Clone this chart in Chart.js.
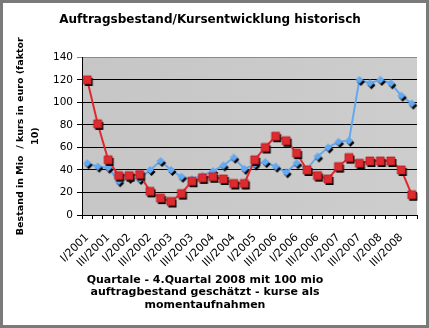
<!DOCTYPE html>
<html>
<head>
<meta charset="utf-8">
<script src="https://cdn.jsdelivr.net/npm/chart.js@4.4.1/dist/chart.umd.min.js"></script>
<style>
  html, body { margin: 0; padding: 0; background: #fff; }
  #wrap { width: 429px; height: 328px; }
</style>
</head>
<body>
<div id="wrap"><canvas id="chart" width="429" height="328"></canvas></div>
<script>
// Quartale I/2001 .. IV/2008 (the "III/2006" at the 2005 slot is as in the original)
const quartale = [
  "I/2001","II/2001","III/2001","IV/2001",
  "I/2002","II/2002","III/2002","IV/2002",
  "I/2003","II/2003","III/2003","IV/2003",
  "I/2004","II/2004","III/2004","IV/2004",
  "I/2005","II/2005","III/2006","IV/2005",
  "I/2006","II/2006","III/2006","IV/2006",
  "I/2007","II/2007","III/2007","IV/2007",
  "I/2008","II/2008","III/2008","IV/2008"
];

// Kurs in euro x10 (rot)
const kurs = [120,81,49,35,35,36,21,15,12,19,30,33,34,32,28,28,
              49,60,70,66,55,40,35,32,43,51,46,48,48,48,40,18];

// Auftragsbestand in Mio (blau)
const bestand = [46,43,42,30,33,32,40,48,40,34,32,35,39,44,51,41,
                 45,47,43,38,46,41,52,60,65,66,120,117,120,117,106,99];

const yTicks = [0,20,40,60,80,100,120,140];

const titel = "Auftragsbestand/Kursentwicklung historisch";
const yTitel = ["Bestand in Mio  / kurs in euro (faktor", "10)"];
const xTitel = ["Quartale - 4.Quartal 2008 mit 100 mio",
                "auftragbestand geschätzt - kurse als",
                "momentaufnahmen"];

const FONT = "'DejaVu Sans', Verdana, sans-serif";

// marker bitmaps with a black drop shadow
function marker(shape, fill, edge){
  let c = document.createElement('canvas');
  c.width = 16; c.height = 16;
  let g = c.getContext('2d');
  function path(dx, dy){
    g.beginPath();
    if(shape === 'square'){
      g.rect(4+dx, 4+dy, 8, 8);
    } else {
      g.moveTo(8+dx, 4+dy); g.lineTo(12+dx, 8+dy);
      g.lineTo(8+dx, 12+dy); g.lineTo(4+dx, 8+dy); g.closePath();
    }
  }
  g.fillStyle = '#000';
  path(1.5, 2); g.fill();
  g.fillStyle = fill;
  path(0, 0); g.fill();
  if(edge){ g.strokeStyle = edge; g.lineWidth = 0.8; path(0, 0); g.stroke(); }
  return c;
}

const redMark = marker('square', '#dd2b2f', '#b82024');
const blueMark = marker('diamond', '#62a8f2', null);

const frame = {
  id: 'frame',
  beforeDraw(chart){
    const ctx = chart.ctx, a = chart.chartArea;
    ctx.save();
    ctx.fillStyle = '#fff';
    ctx.fillRect(0, 0, chart.width, chart.height);
    let grad = ctx.createLinearGradient(a.left, 0, a.right, 0);
    grad.addColorStop(0, '#c6c6c6');
    grad.addColorStop(1, '#cdcdcd');
    ctx.fillStyle = grad;
    ctx.fillRect(a.left, a.top, a.right - a.left, a.bottom - a.top);
    ctx.restore();
  },
  afterDraw(chart){
    const ctx = chart.ctx;
    ctx.save();
    // bottom axis title, centred a bit left like the original
    ctx.fillStyle = '#000';
    ctx.font = 'bold 11px ' + FONT;
    ctx.textAlign = 'center';
    ctx.textBaseline = 'middle';
    xTitel.forEach((t, i) => ctx.fillText(t, 205, 280 + i * 12.5));
    // outer frame
    ctx.strokeStyle = '#7a7a7a';
    ctx.lineWidth = 3;
    ctx.strokeRect(1.5, 1.5, chart.width - 3, chart.height - 3);
    ctx.restore();
  }
};

new Chart(document.getElementById('chart'), {
  type: 'line',
  data: {
    labels: quartale,
    datasets: [
      {
        label: 'Kurs x10',
        data: kurs,
        borderColor: '#dd2b2f',
        borderWidth: 2,
        pointStyle: redMark,
        pointRadius: 4,
        fill: false,
        tension: 0
      },
      {
        label: 'Auftragsbestand',
        data: bestand,
        borderColor: '#62a8f2',
        borderWidth: 2,
        pointStyle: blueMark,
        pointRadius: 4,
        fill: false,
        tension: 0
      }
    ]
  },
  options: {
    responsive: false,
    animation: false,
    events: [],
    layout: { padding: { left: 3, right: 12, top: 0, bottom: 0 } },
    plugins: {
      legend: { display: false },
      tooltip: { enabled: false },
      title: {
        display: true,
        text: titel,
        color: '#000',
        font: { family: FONT, size: 12, weight: 'bold' },
        padding: { top: 13, bottom: 30 }
      }
    },
    scales: {
      x: {
        offset: true,
        grid: {
          offset: true,
          drawOnChartArea: false,
          drawTicks: true,
          tickLength: 4,
          color: '#000'
        },
        border: { color: '#000', width: 1 },
        ticks: {
          autoSkip: false,
          minRotation: 45,
          maxRotation: 45,
          color: '#000',
          padding: 12,
          font: { family: FONT, size: 11 },
          callback: function(v, i){ return i % 2 === 0 ? this.getLabelForValue(v) : ''; }
        },
        afterFit: s => { s.height = 113; s.paddingRight = 0; }
      },
      y: {
        min: 0,
        max: 140,
        afterBuildTicks: s => { s.ticks = yTicks.map(v => ({ value: v })); },
        grid: {
          color: ctx => ctx.tick && ctx.tick.value === 140 ? '#8a8a8a' : '#000',
          lineWidth: 1,
          tickLength: 5
        },
        border: { color: '#000', width: 1 },
        ticks: {
          color: '#000',
          padding: 4,
          font: { family: FONT, size: 10.5 }
        },
        title: {
          display: true,
          text: yTitel,
          color: '#000',
          font: { family: FONT, size: 9.5, weight: 'bold', lineHeight: 1.55 },
          padding: { top: 10, bottom: 0 }
        },
        afterFit: s => { s.width = 79; }
      }
    }
  },
  plugins: [frame]
});
</script>
</body>
</html>
